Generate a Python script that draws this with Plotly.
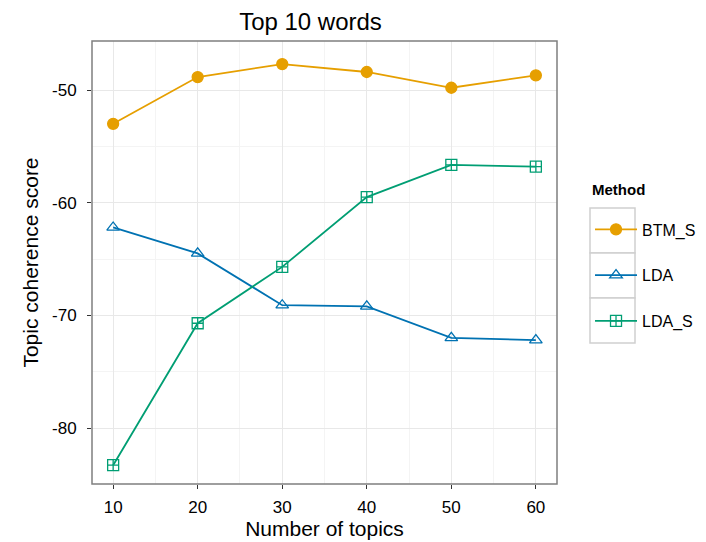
import plotly.graph_objects as go

topics = [10, 20, 30, 40, 50, 60]
btm_s = [-53.0, -48.85, -47.7, -48.4, -49.8, -48.7]
lda = [-62.2, -64.5, -69.1, -69.2, -72.0, -72.2]
lda_s = [-83.3, -70.7, -65.7, -59.5, -56.65, -56.8]

x_ticks = [10, 20, 30, 40, 50, 60]
y_ticks = [-80, -70, -60, -50]
y_ticktext = ["-80", "-70", "-60", "-50"]

series = [
    ("BTM_S", btm_s, "#E69F00", "circle"),
    ("LDA", lda, "#0072B2", "triangle-up-open"),
    ("LDA_S", lda_s, "#009E73", "square-cross-open"),
]

FONT = "Liberation Sans, Arial, Helvetica, sans-serif"

# page body has an 8px default margin; layout margins compensate
OFF = 8
PL, PR, PT, PB = 92 - OFF, 557 - OFF, 41 - OFF, 484 - OFF
W, H = 706, 542

fig = go.Figure()
for name, vals, color, sym in series:
    fig.add_trace(go.Scatter(
        x=topics, y=vals, name=name, mode="lines+markers",
        legendgroup=name,
        line=dict(color=color, width=1.8),
        marker=dict(symbol=sym, size=11, color=color,
                    line=dict(color=color, width=1.3)),
    ))

axis_common = dict(
    showline=False, mirror=False, zeroline=False, automargin=False,
    gridcolor="#E8E8E8", gridwidth=1,
    ticks="outside", ticklen=4, tickcolor="#333333", tickwidth=1.2,
    tickfont=dict(family=FONT, size=17, color="black"),
)

fig.update_layout(
    width=W, height=H,
    paper_bgcolor="white", plot_bgcolor="white",
    margin=dict(l=PL, r=W - PR, t=PT, b=H - PB),
    font=dict(family=FONT, color="black"),
    title=dict(text="Top 10 words", x=(310.5 - OFF) / W, xanchor="center",
               y=1 - (22 - OFF) / H, yanchor="middle",
               font=dict(family=FONT, size=24, color="black")),
    xaxis=dict(
        range=[7.5, 62.5], tickmode="array", tickvals=x_ticks,
        ticklabelstandoff=4,
        title=dict(text="Number of topics", font=dict(family=FONT, size=21), standoff=4),
        minor=dict(showgrid=True, tickmode="linear", tick0=15, dtick=10,
                   gridcolor="#F4F4F4", gridwidth=1, ticks=""),
        **axis_common,
    ),
    yaxis=dict(
        range=[-84.97, -45.65], tickmode="array", tickvals=y_ticks, ticktext=y_ticktext,
        ticklabelstandoff=7,
        title=dict(text="Topic coherence score", font=dict(family=FONT, size=21), standoff=7),
        minor=dict(showgrid=True, tickmode="linear", tick0=-85, dtick=10,
                   gridcolor="#F4F4F4", gridwidth=1, ticks=""),
        **axis_common,
    ),
    legend=dict(
        x=1.071, xanchor="left", y=0.613, yanchor="top",
        font=dict(family=FONT, size=16),
        itemwidth=42,
        traceorder="grouped", tracegroupgap=22,
        bgcolor="rgba(0,0,0,0)",
    ),
)

pw, ph = PR - PL, PB - PT
fig.add_annotation(text="<b>Method</b>", xref="paper", yref="paper",
                   x=(590 - 92) / pw, y=(484 - 189) / ph, xanchor="left", yanchor="middle",
                   showarrow=False, font=dict(family=FONT, size=15, color="black"))

# panel border
fig.add_shape(type="rect", xref="paper", yref="paper", x0=0, x1=1, y0=0, y1=1,
              line=dict(color="#7F7F7F", width=1.5), fillcolor="rgba(0,0,0,0)")

# legend key boxes (ggplot style)
box_x0, box_x1 = (590 - 92) / pw, (635 - 92) / pw
tops = [(484 - 208) / ph, (484 - 253) / ph, (484 - 298) / ph, (484 - 343) / ph]
for i in range(3):
    fig.add_shape(type="rect", xref="paper", yref="paper",
                  x0=box_x0, x1=box_x1, y0=tops[i + 1], y1=tops[i],
                  line=dict(color="#D0D0D0", width=1.5), fillcolor="white",
                  layer="below")

fig.write_html("out.html")
